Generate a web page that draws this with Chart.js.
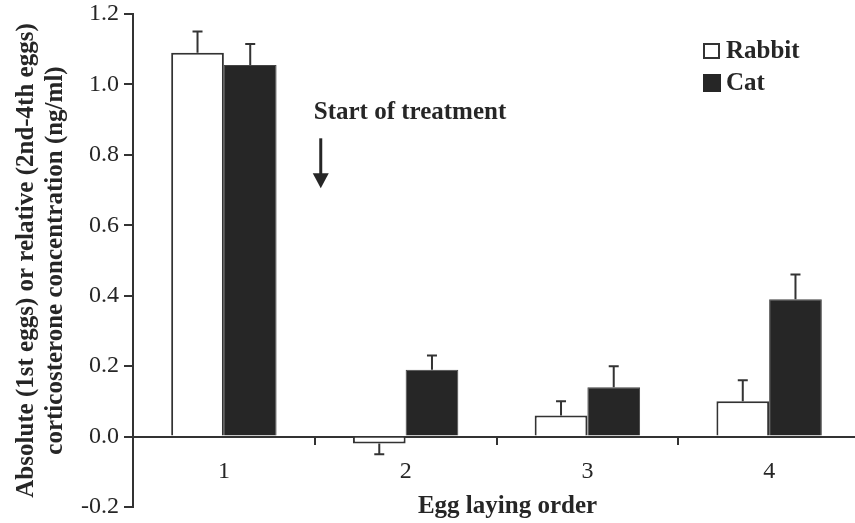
<!DOCTYPE html>
<html>
<head>
<meta charset="utf-8">
<script src="https://cdn.jsdelivr.net/npm/chart.js@4/dist/chart.umd.min.js"></script>
<style>
  html, body { margin: 0; padding: 0; background: #fff; overflow: hidden; }
  #wrap { width: 855px; height: 523px; overflow: hidden; }
</style>
</head>
<body>
<div id="wrap"><canvas id="c" width="860" height="523"></canvas></div>
<script>
// Egg laying order categories
const categories = ['1', '2', '3', '4'];
// Mean corticosterone (absolute for 1st eggs, relative for 2nd-4th eggs), ng/ml
const rabbitValues = [1.09, -0.02, 0.06, 0.10];
const catValues = [1.055, 0.19, 0.14, 0.39];
// Standard errors
const rabbitErrors = [0.06, 0.03, 0.04, 0.06];
const catErrors = [0.06, 0.04, 0.06, 0.07];
// Y-axis tick values
const yTicks = [-0.2, 0.0, 0.2, 0.4, 0.6, 0.8, 1.0, 1.2];
// Treatment marker: between eggs 1 and 2, label and arrow heights (data units)
const treatmentLabel = 'Start of treatment';
const treatmentLevels = { label: 0.92, arrowTop: 0.847, arrowTip: 0.705 };
const xTitle = 'Egg laying order';

const INK = '#262626';
const SERIF = '"Liberation Serif", "Times New Roman", serif';

const errorBars = {
  id: 'errorBars',
  afterDatasetsDraw(chart) {
    const ctx = chart.ctx;
    const y = chart.scales.y;
    const errs = [rabbitErrors, catErrors];
    ctx.save();
    ctx.strokeStyle = '#333';
    ctx.lineWidth = 2;
    chart.data.datasets.forEach((ds, di) => {
      const meta = chart.getDatasetMeta(di);
      meta.data.forEach((bar, i) => {
        const v = ds.data[i];
        const e = errs[di][i];
        const end = v >= 0 ? v + e : v - e;
        const y0 = y.getPixelForValue(v);
        const y1 = y.getPixelForValue(end);
        ctx.beginPath();
        ctx.moveTo(bar.x, y0);
        ctx.lineTo(bar.x, y1);
        ctx.moveTo(bar.x - 5, y1);
        ctx.lineTo(bar.x + 5, y1);
        ctx.stroke();
      });
    });
    ctx.restore();
  }
};

const extras = {
  id: 'extras',
  afterDraw(chart) {
    const ctx = chart.ctx;
    const x = chart.scales.x, y = chart.scales.y;
    ctx.save();
    ctx.fillStyle = INK;
    ctx.font = 'bold 25px ' + SERIF;
    ctx.textBaseline = 'middle';

    // x-axis title
    ctx.textAlign = 'center';
    ctx.fillText(xTitle, x.getPixelForValue(1.5) + 11, y.getPixelForValue(-0.2));

    // treatment marker
    const bx = x.getPixelForValue(0.5);
    ctx.textAlign = 'left';
    ctx.fillText(treatmentLabel, bx - 1, y.getPixelForValue(treatmentLevels.label));
    const ax = bx + 6;
    const top = y.getPixelForValue(treatmentLevels.arrowTop);
    const tip = y.getPixelForValue(treatmentLevels.arrowTip);
    ctx.strokeStyle = INK;
    ctx.lineWidth = 3;
    ctx.beginPath();
    ctx.moveTo(ax, top);
    ctx.lineTo(ax, tip - 12);
    ctx.stroke();
    ctx.beginPath();
    ctx.moveTo(ax - 8, tip - 15);
    ctx.lineTo(ax + 8, tip - 15);
    ctx.lineTo(ax, tip);
    ctx.closePath();
    ctx.fill();

    // legend
    const lx = 703, rows = [51, 83];
    chart.data.datasets.forEach((ds, i) => {
      const cy = rows[i];
      if (i === 0) {
        ctx.fillStyle = '#fff';
        ctx.fillRect(lx, cy - 8, 17, 16);
        ctx.strokeStyle = '#333';
        ctx.lineWidth = 2;
        ctx.strokeRect(lx + 1, cy - 7, 15, 14);
      } else {
        ctx.fillStyle = ds.backgroundColor;
        ctx.fillRect(lx, cy - 9, 18, 18);
      }
      ctx.fillStyle = INK;
      ctx.textAlign = 'left';
      ctx.fillText(ds.label, lx + 23, cy + 1);
    });
    ctx.restore();
  }
};

new Chart(document.getElementById('c'), {
  type: 'bar',
  data: {
    labels: categories,
    datasets: [
      { label: 'Rabbit', data: rabbitValues, backgroundColor: '#ffffff', borderColor: '#333', borderWidth: 2 },
      { label: 'Cat', data: catValues, backgroundColor: '#262626', borderColor: '#444', borderWidth: 1 }
    ]
  },
  options: {
    responsive: false,
    animation: false,
    events: [],
    layout: { padding: { top: 14, bottom: 16, left: 0, right: 0 } },
    datasets: { bar: { categoryPercentage: 0.58, barPercentage: 1.0 } },
    plugins: { legend: { display: false }, tooltip: { enabled: false } },
    scales: {
      x: {
        position: { y: 0 },
        grid: { offset: true, drawOnChartArea: false, tickLength: 7, color: '#333', lineWidth: 2 },
        border: { color: '#333', width: 2 },
        ticks: { color: INK, font: { family: SERIF, size: 24 }, padding: 14 }
      },
      y: {
        min: -0.2, max: 1.2,
        afterBuildTicks(scale) { scale.ticks = yTicks.map(v => ({ value: v })); },
        afterFit(scale) { scale.width = 133; scale.paddingTop = 0; scale.paddingBottom = 0; },
        grid: { drawOnChartArea: false, tickLength: 9, color: '#333', lineWidth: 2 },
        border: { color: '#333', width: 2 },
        ticks: { color: INK, font: { family: SERIF, size: 24 }, padding: 5, callback: v => Number(v).toFixed(1) },
        title: {
          display: true,
          text: ['Absolute (1st eggs) or relative (2nd-4th eggs)', 'corticosterone concentration (ng/ml)'],
          color: INK,
          font: { family: SERIF, size: 25, weight: 'bold', lineHeight: 1.16 },
          padding: { top: 12, bottom: 0 }
        }
      }
    }
  },
  plugins: [errorBars, extras]
});
</script>
</body>
</html>
